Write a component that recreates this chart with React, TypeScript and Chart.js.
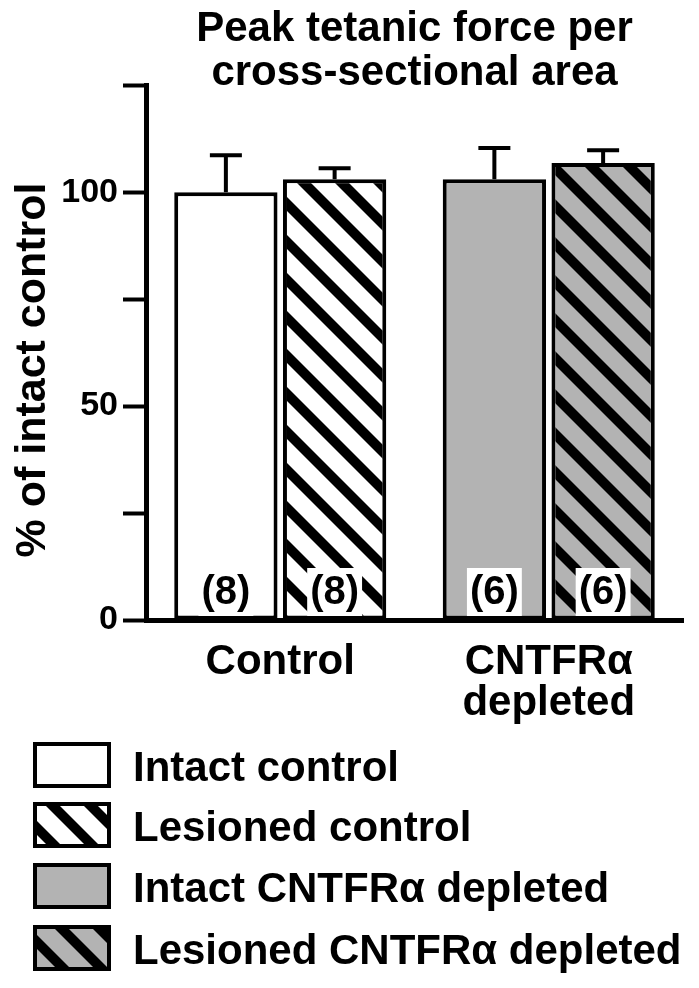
import React, { useEffect, useRef } from 'react';
import { Chart, registerables } from 'chart.js';

Chart.register(...registerables);

const FONT = "'Liberation Sans', Arial, Helvetica, sans-serif";

const categories: (string | string[])[] = ['Control', ['CNTFRα', 'depleted']];
const seriesLabels = ['Intact control', 'Lesioned control', 'Intact CNTFRα depleted', 'Lesioned CNTFRα depleted'];
const intactControl = [100, null];
const lesionedControl = [103.0, null];
const intactDepleted = [null, 103.0];
const lesionedDepleted = [null, 106.8];
const intactControlErr = [8.6, null];
const lesionedControlErr = [2.6, null];
const intactDepletedErr = [null, 7.3];
const lesionedDepletedErr = [null, 3.0];
const nLabels = ['(8)', '(8)', '(6)', '(6)'];
const labeledTicks = [0, 50, 100];
const titleLines = ['Peak tetanic force per', 'cross-sectional area'];
const yAxisTitle = '% of intact control';

const GRAY = '#b3b3b3';

function makeHatch(bg: string): CanvasPattern | string {
  const P = 38;
  const w = 14;
  const c = document.createElement('canvas');
  c.width = P;
  c.height = P;
  const ctx = c.getContext('2d');
  if (!ctx) return bg;
  ctx.fillStyle = bg;
  ctx.fillRect(0, 0, P, P);
  ctx.fillStyle = '#000';
  for (let k = -2; k <= 1; k++) {
    ctx.beginPath();
    ctx.moveTo(k * P, 0);
    ctx.lineTo(k * P + w, 0);
    ctx.lineTo(k * P + w + P, P);
    ctx.lineTo(k * P + P, P);
    ctx.closePath();
    ctx.fill();
  }
  const pat = ctx.createPattern(c, 'repeat');
  return pat || bg;
}

const errorBarsPlugin = {
  id: 'errorBars',
  afterDatasetsDraw(chart: any) {
    const { ctx } = chart;
    const y = chart.scales.y;
    chart.data.datasets.forEach((ds: any, di: number) => {
      const meta = chart.getDatasetMeta(di);
      ds.data.forEach((v: number | null, i: number) => {
        const e = ds.errors ? ds.errors[i] : null;
        if (v == null || e == null) return;
        const el = meta.data[i];
        if (!el) return;
        const top = y.getPixelForValue(v + e);
        ctx.save();
        ctx.strokeStyle = '#000';
        ctx.lineWidth = 4;
        ctx.beginPath();
        ctx.moveTo(el.x, el.y);
        ctx.lineTo(el.x, top);
        ctx.moveTo(el.x - 16, top);
        ctx.lineTo(el.x + 16, top);
        ctx.stroke();
        ctx.restore();
      });
    });
  },
};

const countLabelsPlugin = {
  id: 'countLabels',
  afterDatasetsDraw(chart: any) {
    const { ctx } = chart;
    const base = chart.chartArea.bottom;
    ctx.save();
    ctx.font = `bold 40px ${FONT}`;
    ctx.textAlign = 'center';
    ctx.textBaseline = 'middle';
    chart.data.datasets.forEach((ds: any, di: number) => {
      const meta = chart.getDatasetMeta(di);
      ds.data.forEach((v: number | null, i: number) => {
        if (v == null) return;
        const el = meta.data[i];
        if (!el) return;
        const txt = nLabels[di];
        const tw = ctx.measureText(txt).width;
        ctx.fillStyle = '#fff';
        ctx.fillRect(el.x - tw / 2 - 3, base - 52, tw + 6, 48);
        ctx.fillStyle = '#000';
        ctx.fillText(txt, el.x, base - 27);
      });
    });
    ctx.restore();
  },
};

const yTitlePlugin = {
  id: 'yTitle',
  afterDraw(chart: any) {
    const { ctx } = chart;
    ctx.save();
    ctx.translate(45, 370);
    ctx.rotate(-Math.PI / 2);
    ctx.font = `bold 43px ${FONT}`;
    ctx.fillStyle = '#000';
    ctx.textAlign = 'center';
    ctx.textBaseline = 'alphabetic';
    ctx.fillText(yAxisTitle, 0, 0);
    ctx.restore();
  },
};

const legendPlugin = {
  id: 'customLegend',
  afterDraw(chart: any) {
    const { ctx } = chart;
    const x0 = 35;
    const bw = 74;
    const bh = 42;
    const rowY = [744, 804, 865, 927];
    ctx.save();
    chart.data.datasets.forEach((ds: any, i: number) => {
      const y0 = rowY[i];
      ctx.fillStyle = ds.backgroundColor;
      ctx.fillRect(x0, y0, bw, bh);
      ctx.strokeStyle = '#000';
      ctx.lineWidth = 4;
      ctx.strokeRect(x0, y0, bw, bh);
      ctx.fillStyle = '#000';
      ctx.font = `bold 42px ${FONT}`;
      ctx.textAlign = 'left';
      ctx.textBaseline = 'alphabetic';
      ctx.fillText(ds.label, 133, y0 + bh / 2 + 16);
    });
    ctx.restore();
  },
};

export default function App() {
  const ref = useRef<HTMLCanvasElement | null>(null);

  useEffect(() => {
    if (!ref.current) return;
    const whiteHatch = makeHatch('#ffffff');
    const grayHatch = makeHatch(GRAY);
    const mk = (label: string, data: (number | null)[], errors: (number | null)[], bg: any) => ({
      label,
      data,
      errors,
      backgroundColor: bg,
      borderColor: '#000',
      borderWidth: 4,
      borderSkipped: false,
      skipNull: true,
      categoryPercentage: 0.81,
      barPercentage: 0.95,
    });
    const chart = new Chart(ref.current, {
      type: 'bar',
      data: {
        labels: categories as any,
        datasets: [
          mk(seriesLabels[0], intactControl, intactControlErr, '#ffffff'),
          mk(seriesLabels[1], lesionedControl, lesionedControlErr, whiteHatch),
          mk(seriesLabels[2], intactDepleted, intactDepletedErr, GRAY),
          mk(seriesLabels[3], lesionedDepleted, lesionedDepletedErr, grayHatch),
        ] as any,
      },
      options: {
        animation: false,
        responsive: false,
        devicePixelRatio: 1,
        layout: { padding: { top: 1, right: 16, bottom: 0, left: 0 } },
        plugins: {
          legend: { display: false },
          tooltip: { enabled: false },
          title: {
            display: true,
            text: titleLines,
            fullSize: false,
            color: '#000',
            font: { family: FONT, size: 42, weight: 'bold', lineHeight: 1.05 },
            padding: { top: 6, bottom: -10 },
          },
        },
        scales: {
          x: {
            grid: { display: false, drawTicks: false },
            border: { display: true, color: '#000', width: 5 },
            ticks: {
              color: '#000',
              font: { family: FONT, size: 42, weight: 'bold', lineHeight: 0.98 },
              padding: 22,
              maxRotation: 0,
              autoSkip: false,
            },
            afterFit(scale: any) {
              scale.height = 368;
            },
          },
          y: {
            min: 0,
            max: 125,
            grid: {
              display: true,
              drawOnChartArea: false,
              drawTicks: true,
              tickLength: 23,
              tickWidth: 4,
              tickColor: '#000',
            },
            border: { display: true, color: '#000', width: 5 },
            ticks: {
              stepSize: 25,
              color: '#000',
              padding: 5,
              font: { family: FONT, size: 34, weight: 'bold' },
              callback: (v: any) => (labeledTicks.includes(Number(v)) ? String(v) : ''),
            },
            afterFit(scale: any) {
              scale.width = 146;
            },
          },
        },
      } as any,
      plugins: [errorBarsPlugin, countLabelsPlugin, yTitlePlugin, legendPlugin],
    });
    return () => chart.destroy();
  }, []);

  return (
    <div style={{ position: 'absolute', left: 0, top: 0, width: 699, height: 988, background: '#fff' }}>
      <canvas ref={ref} width={699} height={988} style={{ display: 'block' }} />
    </div>
  );
}
